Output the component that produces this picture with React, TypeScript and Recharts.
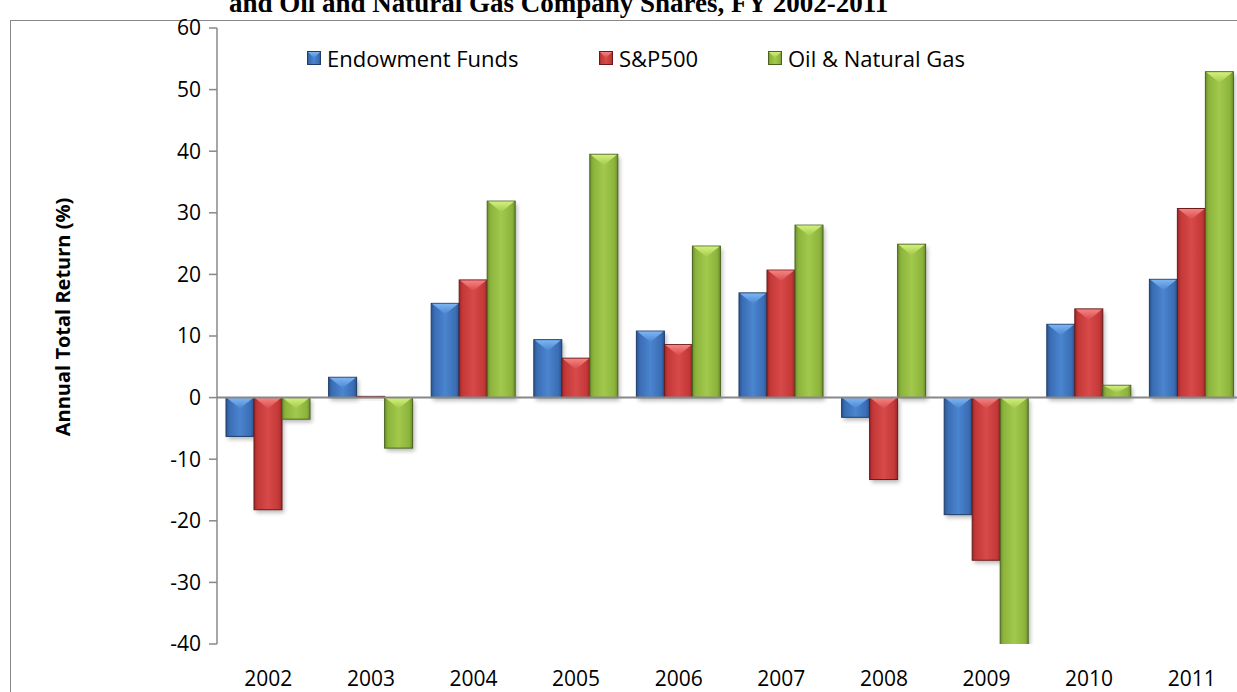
import React from "react";
import { Bar, BarChart, ReferenceLine, XAxis, YAxis } from "recharts";

const years = ["2002", "2003", "2004", "2005", "2006", "2007", "2008", "2009", "2010", "2011"];
const endowmentFunds = [-6.3, 3.3, 15.3, 9.4, 10.8, 17.0, -3.2, -19.0, 11.9, 19.2];
const sp500 = [-18.2, 0.2, 19.1, 6.4, 8.6, 20.7, -13.3, -26.4, 14.4, 30.7];
const oilGas = [-3.5, -8.2, 31.9, 39.5, 24.6, 28.0, 24.9, -42.0, 2.0, 52.9];
const yTicks = [60, 50, 40, 30, 20, 10, 0, -10, -20, -30, -40];

const series = [
  { key: "endowment", name: "Endowment Funds", pal: "blue" },
  { key: "sp", name: "S&P500", pal: "red" },
  { key: "oil", name: "Oil & Natural Gas", pal: "green" },
];

const data = years.map((year, i) => ({
  year,
  endowment: endowmentFunds[i],
  sp: sp500[i],
  oil: oilGas[i],
}));

const PAL: Record<string, { dark: string; base: string; light: string; hi: string; line: string }> = {
  blue: { dark: "#2a5591", base: "#3a6db4", light: "#4a85cf", hi: "#7db5f4", line: "#1f3d68" },
  red: { dark: "#9e2828", base: "#c43838", light: "#d84a4a", hi: "#f48484", line: "#6a1a1a" },
  green: { dark: "#6e8f2e", base: "#8cb43c", light: "#a2c94c", hi: "#d2f07c", line: "#4a6420" },
};

const FONT = "'Open Sans', sans-serif";
const AXIS = "#888888";

function Defs() {
  return (
    <svg width={0} height={0} style={{ position: "absolute" }}>
      <defs>
        {Object.entries(PAL).map(([k, p]) => (
          <React.Fragment key={k}>
            <linearGradient id={`body-${k}`} x1="0" y1="0" x2="1" y2="0">
              <stop offset="0" stopColor={p.dark} />
              <stop offset="0.12" stopColor={p.base} />
              <stop offset="0.5" stopColor={p.light} />
              <stop offset="0.88" stopColor={p.base} />
              <stop offset="1" stopColor={p.dark} />
            </linearGradient>
            <linearGradient id={`hi-${k}`} x1="0" y1="0" x2="0" y2="1">
              <stop offset="0" stopColor={p.hi} />
              <stop offset="1" stopColor={p.light} />
            </linearGradient>
          </React.Fragment>
        ))}
        <filter id="barShadow" x="-30%" y="-30%" width="160%" height="160%">
          <feGaussianBlur stdDeviation="2" />
        </filter>
      </defs>
    </svg>
  );
}

function BevelBar(props: any) {
  const { x, y, width, height, pal } = props;
  if (width == null || height == null) return null;
  const p = PAL[pal];
  const top = height < 0 ? y + height : y;
  const h = Math.abs(height);
  if (h < 0.5) {
    return <rect x={x} y={top - 0.5} width={width} height={1.5} fill={p.base} />;
  }
  const d = Math.min(11, h * 0.6);
  return (
    <g>
      <rect x={x + 2} y={top + 3} width={width} height={h} fill="#000" opacity={0.28} filter="url(#barShadow)" />
      <rect x={x} y={top} width={width} height={h} fill={`url(#body-${pal})`} stroke={p.line} strokeWidth={1} />
      <polygon
        points={`${x + 1},${top + 0.5} ${x + width - 1},${top + 0.5} ${x + width / 2},${top + d}`}
        fill={`url(#hi-${pal})`}
      />
    </g>
  );
}

function LegendMark({ pal }: { pal: string }) {
  const p = PAL[pal];
  return (
    <svg width={14} height={14} style={{ display: "block" }}>
      <rect x={0.5} y={0.5} width={13} height={13} fill={`url(#body-${pal})`} stroke={p.line} />
      <polygon points="1,1 13,1 7,7" fill={`url(#hi-${pal})`} />
    </svg>
  );
}

const legendLeft = [307, 599, 768];

function LegendRow() {
  return (
    <div style={{ position: "absolute", left: 0, top: 43, height: 30, width: 1237 }}>
      {series.map((s, i) => (
        <div
          key={s.key}
          style={{
            position: "absolute",
            left: legendLeft[i],
            top: 0,
            display: "flex",
            alignItems: "center",
            gap: 6,
            fontFamily: FONT,
            fontSize: 22,
            color: "#000",
            whiteSpace: "nowrap",
            lineHeight: "30px",
          }}
        >
          <LegendMark pal={s.pal} />
          <span>{s.name}</span>
        </div>
      ))}
    </div>
  );
}

function YearTick(props: any) {
  const { x, payload } = props;
  return (
    <text x={x} y={686} textAnchor="middle" fontFamily={FONT} fontSize={21} fill="#000">
      {payload.value}
    </text>
  );
}

export default function App() {
  return (
    <div
      style={{
        position: "absolute",
        left: 0,
        top: 0,
        width: 1237,
        height: 692,
        overflow: "hidden",
        background: "#fff",
      }}
    >
      <Defs />
      <div
        style={{
          position: "absolute",
          left: 229,
          top: -10,
          fontFamily: "'Liberation Serif', 'Times New Roman', serif",
          fontWeight: "bold",
          fontSize: 27,
          lineHeight: "27px",
          whiteSpace: "nowrap",
          color: "#000",
        }}
      >
        and Oil and Natural Gas Company Shares, FY 2002-2011
      </div>
      <div
        style={{
          position: "absolute",
          left: 10,
          top: 20,
          width: 1300,
          height: 700,
          border: `1.5px solid ${AXIS}`,
        }}
      />
      <div style={{ position: "absolute", left: 0, top: 0 }}>
        <BarChart
          width={1250}
          height={692}
          data={data}
          margin={{ top: 28, right: 7, bottom: 0, left: 0 }}
          barGap={0}
          barSize={28}
        >
          <XAxis dataKey="year" axisLine={false} tickLine={false} height={48} tick={<YearTick />} interval={0} />
          <YAxis
            width={217}
            domain={[-40, 60]}
            ticks={yTicks}
            allowDataOverflow
            axisLine={{ stroke: AXIS, strokeWidth: 1.5 }}
            tickLine={{ stroke: AXIS, strokeWidth: 1.5 }}
            tickSize={8}
            tickMargin={8}
            tick={{ fill: "#000", fontSize: 21, fontFamily: FONT }}
            label={{
              content: () => (
                <text
                  x={70}
                  y={317}
                  transform="rotate(-90 70 317)"
                  textAnchor="middle"
                  fontFamily={FONT}
                  fontWeight="bold"
                  fontSize={20}
                  fill="#000"
                >
                  Annual Total Return (%)
                </text>
              ),
            }}
          />
          <ReferenceLine y={0} stroke={AXIS} strokeWidth={2} />
          {series.map((s) => (
            <Bar
              key={s.key}
              dataKey={s.key}
              name={s.name}
              isAnimationActive={false}
              shape={(p: any) => <BevelBar {...p} pal={s.pal} />}
            />
          ))}
        </BarChart>
      </div>
      <LegendRow />
    </div>
  );
}
